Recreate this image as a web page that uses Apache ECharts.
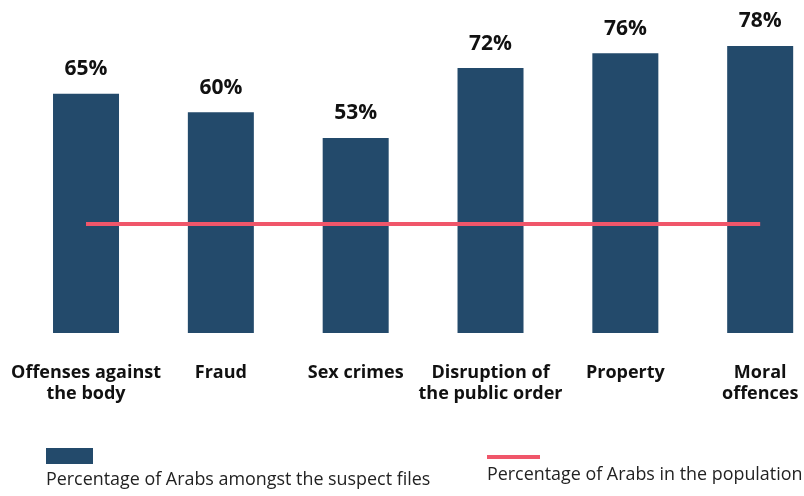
<!DOCTYPE html>
<html>
<head>
<meta charset="utf-8">
<script src="https://cdn.jsdelivr.net/npm/echarts@6/dist/echarts.min.js"></script>
<style>
  html, body { margin: 0; padding: 0; background: #fff; }
  #chart { width: 804px; height: 496px; }
</style>
</head>
<body>
<div id="chart"></div>
<script>
// data
const categories = ['Offenses against\nthe body', 'Fraud', 'Sex crimes', 'Disruption of\nthe public order', 'Property', 'Moral\noffences']
const suspectShare = [65, 60, 53, 72, 76, 78]
const populationShare = [29.6, 29.6, 29.6, 29.6, 29.6, 29.6]
const seriesNames = ['Percentage of Arabs amongst the suspect files', 'Percentage of Arabs in the population']

const colors = ['#234a6b', '#f0566a']
const font = '"Open Sans", "Noto Sans", sans-serif'

const myChart = echarts.init(document.getElementById('chart'))
const option = {
  animation: false,
  color: colors,
  textStyle: { fontFamily: font },
  grid: {
    left: 18.6,
    top: 38.6,
    width: 809,
    height: 294.4,
    containLabel: false,
    outerBoundsMode: 'none'
  },
  xAxis: {
    type: 'category',
    data: categories,
    axisLine: { show: false },
    axisTick: { show: false },
    axisLabel: {
      interval: 0,
      margin: 29,
      color: '#111',
      fontFamily: font,
      fontWeight: 'bold',
      fontSize: 18,
      lineHeight: 21,
      align: 'center'
    }
  },
  yAxis: {
    type: 'value',
    min: 0,
    max: 80,
    show: false,
    splitLine: { show: false }
  },
  series: [
    {
      name: seriesNames[0],
      type: 'bar',
      data: suspectShare,
      barWidth: 66,
      itemStyle: { color: colors[0] },
      label: {
        show: true,
        position: 'top',
        distance: 14,
        formatter: '{c}%',
        color: '#111',
        fontFamily: font,
        fontWeight: 'bold',
        fontSize: 21
      }
    },
    {
      name: seriesNames[1],
      type: 'line',
      data: populationShare,
      symbol: 'none',
      lineStyle: { color: colors[1], width: 4 },
      z: 5
    }
  ],
  graphic: [
    { type: 'rect', left: 46, top: 448, shape: { width: 47, height: 16 }, style: { fill: colors[0] } },
    { type: 'text', left: 46, top: 471, style: { text: seriesNames[0], fill: '#222', font: '17.9px ' + font } },
    { type: 'rect', left: 487, top: 455, shape: { width: 53, height: 4 }, style: { fill: colors[1] } },
    { type: 'text', left: 487, top: 466, style: { text: seriesNames[1], fill: '#222', font: '17.9px ' + font } }
  ]
}
myChart.setOption(option)
</script>
</body>
</html>
